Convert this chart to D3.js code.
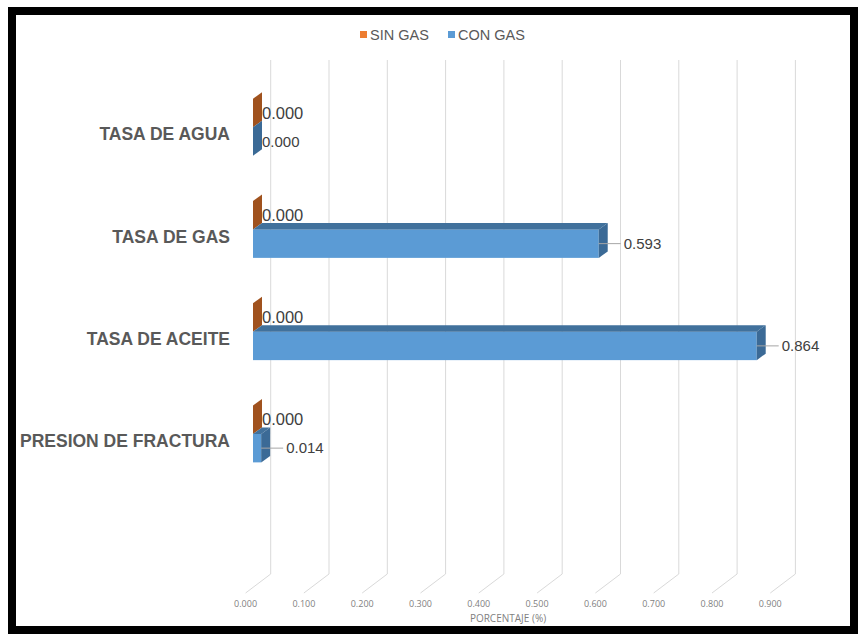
<!DOCTYPE html>
<html>
<head>
<meta charset="utf-8">
<script src="https://cdn.jsdelivr.net/npm/d3@7"></script>
<style>
  html, body { margin: 0; padding: 0; background: #fff; }
  svg { display: block; }
</style>
</head>
<body>
<div id="chart"></div>
<script>
'use strict';

// Data
var categories = ['TASA DE AGUA', 'TASA DE GAS', 'TASA DE ACEITE', 'PRESION DE FRACTURA'];
var sinGas = [0, 0, 0, 0];
var conGas = [0, 0.593, 0.864, 0.014];
var seriesNames = ['SIN GAS', 'CON GAS'];
var ticks = [0, 0.1, 0.2, 0.3, 0.4, 0.5, 0.6, 0.7, 0.8, 0.9];

var W = 858, H = 634;
var svg = d3.select('#chart').append('svg')
	.attr('width', W)
	.attr('height', H);

// Frame
svg.append('rect')
	.attr('x', 12).attr('y', 11)
	.attr('width', W - 16).attr('height', H - 15)
	.attr('fill', '#fff')
	.attr('stroke', '#000')
	.attr('stroke-width', 8);

// Scales
var x = d3.scaleLinear().domain([0, 0.9]).range([0, 524.7]);
var backX0 = 270.7, frontX0 = 245.6, barX0 = 253;
var gridTop = 60, wallBottom = 574, floorFront = 593;
var depthX = 9, depthY = -6.5;

var y = d3.scaleBand()
	.domain(categories)
	.range([76, 485]);
var barH = 28.5;

var colors = {
	sin: { front: '#ED7D31', top: '#C1631F', side: '#A0521E' },
	con: { front: '#5B9BD5', top: '#41719C', side: '#3B6A96' }
};

// Gridlines (back wall + floor)
var grid = svg.append('g');
ticks.forEach(function(t) {
	grid.append('path')
		.attr('d', 'M' + (backX0 + x(t)) + ',' + gridTop +
			'L' + (backX0 + x(t)) + ',' + wallBottom +
			'L' + (frontX0 + x(t)) + ',' + floorFront)
		.attr('fill', 'none')
		.attr('stroke', '#d9d9d9')
		.attr('stroke-width', 1);
});

// Tick labels
var fmt = d3.format('.3f');
svg.append('g').selectAll('text')
	.data(ticks)
	.enter()
	.append('text')
	.attr('x', function(d) { return frontX0 + x(d); })
	.attr('y', 607)
	.attr('text-anchor', 'middle')
	.attr('font-family', '"Open Sans", sans-serif')
	.attr('font-size', 9)
	.attr('fill', '#7f7f7f')
	.text(function(d) { return fmt(d); });

svg.append('text')
	.attr('x', 508)
	.attr('y', 622)
	.attr('text-anchor', 'middle')
	.attr('font-family', '"Open Sans", sans-serif')
	.attr('font-size', 10)
	.attr('fill', '#7f7f7f')
	.text('PORCENTAJE (%)');

// 3D bar
function drawBar(g, v, y0, c) {
	var x0 = barX0, x1 = barX0 + x(v), y1 = y0 + barH;
	if (v > 0) {
		g.append('rect')
			.attr('x', x0).attr('y', y0)
			.attr('width', x1 - x0).attr('height', barH)
			.attr('fill', c.front);
		g.append('path')
			.attr('d', 'M' + x0 + ',' + y0 + 'L' + x1 + ',' + y0 +
				'L' + (x1 + depthX) + ',' + (y0 + depthY) +
				'L' + (x0 + depthX) + ',' + (y0 + depthY) + 'Z')
			.attr('fill', c.top);
	}
	g.append('path')
		.attr('d', 'M' + x1 + ',' + y0 +
			'L' + (x1 + depthX) + ',' + (y0 + depthY) +
			'L' + (x1 + depthX) + ',' + (y1 + depthY) +
			'L' + x1 + ',' + y1 + 'Z')
		.attr('fill', c.side);
}

var bars = svg.append('g');
var labels = svg.append('g')
	.attr('font-family', '"Liberation Sans", Arial, sans-serif')
	.attr('fill', '#404040');

categories.forEach(function(cat, i) {
	var mid = y(cat) + y.bandwidth() / 2;
	drawBar(bars, sinGas[i], mid - barH, colors.sin);
	drawBar(bars, conGas[i], mid, colors.con);

	// SIN GAS label
	labels.append('text')
		.attr('x', barX0 + x(sinGas[i]) + depthX)
		.attr('y', mid - barH / 2)
		.attr('dy', '0.35em')
		.attr('font-size', 16.5)
		.text(fmt(sinGas[i]));

	// CON GAS label
	var v = conGas[i];
	var xe = barX0 + x(v);
	var cy = mid + barH / 2;
	var lx = v > 0 ? xe + depthX + 16 : xe + depthX;
	if (v > 0) {
		labels.append('line')
			.attr('x1', xe).attr('y1', cy)
			.attr('x2', lx - 3).attr('y2', cy)
			.attr('stroke', '#a6a6a6')
			.attr('stroke-width', 1);
	}
	labels.append('text')
		.attr('x', lx)
		.attr('y', cy)
		.attr('dy', '0.35em')
		.attr('font-size', 15)
		.text(fmt(v));
});

// Category labels
svg.append('g').selectAll('text')
	.data(categories)
	.enter()
	.append('text')
	.attr('x', 230)
	.attr('y', function(d) { return y(d) + y.bandwidth() / 2 + 7; })
	.attr('dy', '0.35em')
	.attr('text-anchor', 'end')
	.attr('font-family', '"Liberation Sans", Arial, sans-serif')
	.attr('font-weight', 'bold')
	.attr('font-size', 17.5)
	.attr('fill', '#595959')
	.text(function(d) { return d; });

// Legend
var legend = svg.append('g')
	.attr('font-family', '"Liberation Sans", Arial, sans-serif')
	.attr('font-size', 14.5)
	.attr('fill', '#595959');
var legendX = [360, 448];
var legendColors = [colors.sin.front, colors.con.front];
seriesNames.forEach(function(name, i) {
	legend.append('rect')
		.attr('x', legendX[i]).attr('y', 31)
		.attr('width', 7).attr('height', 7)
		.attr('fill', legendColors[i]);
	legend.append('text')
		.attr('x', legendX[i] + 10)
		.attr('y', 34.5)
		.attr('dy', '0.35em')
		.text(name);
});
</script>
</body>
</html>
